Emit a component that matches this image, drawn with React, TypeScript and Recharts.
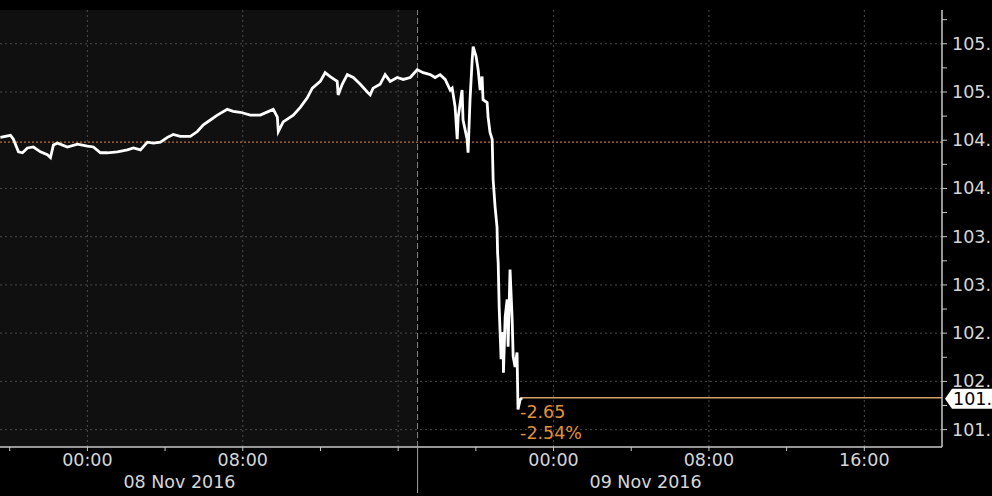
import React from 'react';
import { LineChart, Line, XAxis, YAxis, ReferenceLine, ReferenceArea, ReferenceDot } from 'recharts';

// hours since 08 Nov 2016 00:00
const hours = [
  -4.48, -3.96, -3.81, -3.55, -3.34, -3.09, -2.78, -2.42, -2.06, -1.9,
  -1.75, -1.54, -1.03, -0.51, 0.0, 0.31, 0.67, 1.03, 1.54, 2.06, 2.37,
  2.73, 3.09, 3.4, 3.76, 4.12, 4.42, 4.78, 5.3, 5.66, 5.97,
  6.33, 6.69, 7.2, 7.51, 7.87, 8.39, 8.9, 9.57, 9.78, 9.83,
  10.08, 10.6, 10.96, 11.32, 11.58, 11.99, 12.24, 12.5, 12.86, 12.91,
  13.12, 13.38, 13.69, 14.05, 14.41, 14.56, 14.71, 15.07, 15.33, 15.59,
  15.95, 16.26, 16.62, 16.98, 17.29, 17.65, 17.9, 18.16, 18.42, 18.68,
  18.78, 18.93, 19.04, 19.09, 19.29, 19.34, 19.55, 19.6, 19.7, 19.81,
  19.86, 20.01, 20.12, 20.22, 20.32, 20.37, 20.58, 20.63, 20.73, 20.84,
  20.89, 20.99, 21.09, 21.12, 21.15, 21.2, 21.3, 21.4, 21.42, 21.51,
  21.61, 21.66, 21.76, 21.87, 21.92, 22.02, 22.12, 22.17, 22.28, 22.38,
];

const prices = [
  104.53, 104.55, 104.51, 104.38, 104.37, 104.42, 104.43, 104.38, 104.35, 104.32,
  104.45, 104.47, 104.43, 104.46, 104.44, 104.43, 104.37, 104.37, 104.38, 104.4, 104.42,
  104.4, 104.48, 104.47, 104.48, 104.53, 104.56, 104.54, 104.54, 104.59, 104.66,
  104.71, 104.76, 104.82, 104.8, 104.79, 104.76, 104.76, 104.82, 104.74, 104.59,
  104.69, 104.76, 104.84, 104.94, 105.04, 105.11, 105.2, 105.16, 105.11, 104.97,
  105.08, 105.18, 105.15, 105.08, 105.0, 104.97, 105.04, 105.08, 105.18, 105.11,
  105.15, 105.13, 105.15, 105.23, 105.2, 105.18, 105.15, 105.18, 105.13, 105.02,
  105.04, 104.85, 104.51, 104.74, 105.02, 104.71, 104.51, 104.37, 104.92, 105.33,
  105.47, 105.37, 105.23, 105.02, 105.16, 104.92, 104.89, 104.74, 104.58, 104.51,
  104.09, 103.81, 103.6, 103.33, 103.23, 102.77, 102.23, 102.51, 102.09, 102.67,
  102.85, 102.36, 103.16, 102.64, 102.26, 102.15, 102.3, 101.71, 101.81, 101.83,
];

const prevClose = 104.48;
const lastPrice = 101.83;
const netChange = '-2.65';
const pctChange = '-2.54%';

const xDomain = [-4.5, 44];
const yDomain = [101.32, 105.85];
const xTicks = [-4, 0, 4, 8, 12, 16, 17, 20, 24, 28, 32, 36, 40];
const xLabels: Record<number, string> = { 0: '00:00', 8: '08:00', 24: '00:00', 32: '08:00', 40: '16:00' };
const dateLabels: Record<number, string> = { 0: '08 Nov 2016', 24: '09 Nov 2016' };
const xGrid = [0, 8, 16, 24, 32, 40];
const sessionBreak = 17;
const yTicks = [101.5, 101.75, 102, 102.25, 102.5, 102.75, 103, 103.25, 103.5, 103.75, 104, 104.25, 104.5, 104.75, 105, 105.25, 105.5, 105.75];
const yGrid = [101.5, 102, 102.5, 103, 103.5, 104, 105, 105.5];

const data = hours.map((h, i) => ({ h, price: prices[i] }));
const lastHour = hours[hours.length - 1];

const FONT = 'DejaVu Sans';
const TEXT = '#d6d6d6';
const AXIS = '#c8c8c8';
const GRID = '#4a4a4a';

const XTick = (props: any) => {
  const { x, y, payload } = props;
  const v = payload.value;
  if (v === sessionBreak) {
    return <line x1={x} x2={x} y1={y} y2={y + 46} stroke="#a0a0a0" strokeWidth={1} />;
  }
  const label = xLabels[v];
  const date = dateLabels[v];
  return (
    <g>
      <line x1={x} x2={x} y1={y} y2={y + 4} stroke={AXIS} strokeWidth={1} />
      {label && (
        <text x={x} y={y + 19} textAnchor="middle" fill={TEXT} fontSize={17.5} fontFamily={FONT}>
          {label}
        </text>
      )}
      {date && (
        <text x={x + 36} y={y + 41} textAnchor="start" fill={TEXT} fontSize={17.5} fontFamily={FONT}>
          {date}
        </text>
      )}
    </g>
  );
};

const YTick = (props: any) => {
  const { x, y, payload } = props;
  const v = payload.value;
  const major = Math.abs(v * 2 - Math.round(v * 2)) < 1e-6;
  return (
    <g>
      <line x1={x} x2={x + 5} y1={y} y2={y} stroke={AXIS} strokeWidth={1} />
      {major && (
        <text x={x + 10} y={y + 6} fill={TEXT} fontSize={17.5} fontFamily={FONT}>
          {v.toFixed(2)}
        </text>
      )}
    </g>
  );
};

const Flag = (props: any) => {
  const { cx, cy } = props;
  return (
    <g>
      <polygon
        points={`${cx + 3},${cy + 1} ${cx + 10},${cy - 9} ${cx + 70},${cy - 9} ${cx + 70},${cy + 11} ${cx + 10},${cy + 11}`}
        fill="#ffffff"
      />
      <text x={cx + 11} y={cy + 7} fill="#000" fontSize={17.5} fontFamily={FONT}>
        {lastPrice.toFixed(2)}
      </text>
    </g>
  );
};

const ChangeNote = (props: any) => {
  const { cx, cy } = props;
  return (
    <g>
      <text x={cx - 2} y={cy + 20} fill="#e0913a" fontSize={17.5} fontFamily={FONT}>
        {netChange}
      </text>
      <text x={cx - 2} y={cy + 41} fill="#e0913a" fontSize={17.5} fontFamily={FONT}>
        {pctChange}
      </text>
    </g>
  );
};

export default function App() {
  return (
    <div style={{ position: 'absolute', left: 0, top: 0, width: 992, height: 496, background: '#000', overflow: 'hidden' }}>
      <LineChart width={992} height={496} data={data} margin={{ top: 10, right: 0, bottom: 0, left: 0 }}>
        <XAxis
          dataKey="h"
          type="number"
          domain={xDomain}
          ticks={xTicks}
          interval={0}
          height={49}
          tickLine={false}
          tickSize={0}
          tickMargin={0}
          axisLine={{ stroke: AXIS, strokeWidth: 1.5 }}
          tick={<XTick />}
          allowDataOverflow
        />
        <YAxis
          orientation="right"
          type="number"
          domain={yDomain}
          ticks={yTicks}
          interval={0}
          width={50}
          tickLine={false}
          tickSize={0}
          tickMargin={0}
          axisLine={{ stroke: AXIS, strokeWidth: 1.5 }}
          tick={<YTick />}
          allowDataOverflow
        />
        <ReferenceArea x1={xDomain[0]} x2={sessionBreak} y1={yDomain[0]} y2={yDomain[1]} fill="#101010" fillOpacity={1} stroke="none" />
        {yGrid.map((v) => (
          <ReferenceLine key={'y' + v} y={v} stroke={GRID} strokeDasharray="2 3" strokeWidth={1} />
        ))}
        {xGrid.map((v) => (
          <ReferenceLine key={'x' + v} x={v} stroke={GRID} strokeDasharray="2 3" strokeWidth={1} />
        ))}
        <ReferenceLine x={sessionBreak} stroke="#8a8a8a" strokeDasharray="6 3" strokeWidth={1} />
        <ReferenceLine y={prevClose} stroke="#c0702e" strokeDasharray="2 2" strokeWidth={1.2} />
        <Line
          type="linear"
          dataKey="price"
          stroke="#ffffff"
          strokeWidth={2.8}
          dot={false}
          isAnimationActive={false}
        />
        <ReferenceLine
          segment={[
            { x: lastHour, y: lastPrice },
            { x: xDomain[1], y: lastPrice },
          ]}
          stroke="#d4a06a"
          strokeWidth={1.5}
        />
        <ReferenceDot x={lastHour} y={lastPrice} r={0} shape={<ChangeNote />} />
        <ReferenceDot x={xDomain[1]} y={lastPrice} r={0} shape={<Flag />} />
      </LineChart>
    </div>
  );
}
